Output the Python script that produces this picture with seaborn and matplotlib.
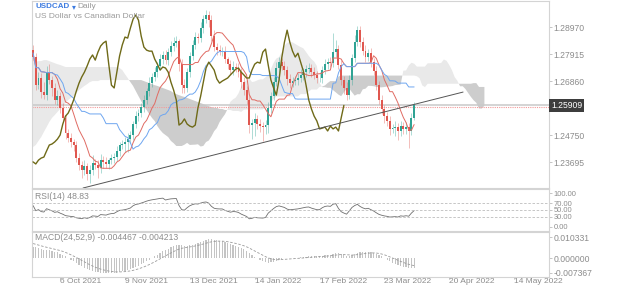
import numpy as np
import pandas as pd
import matplotlib
matplotlib.use("Agg")
import matplotlib.pyplot as plt
import matplotlib.transforms as mtransforms
import seaborn as sns

sns.set_style("white")
plt.rcParams['font.family'] = ['Liberation Sans', 'DejaVu Sans']

# daily USDCAD closes, one per trading day from 22 Sep 2021
first_open = 1.2807
closes = [
    1.2780, 1.2670, 1.2698, 1.2643, 1.2631, 1.2721, 1.2690, 1.2659, 1.2612, 1.2627,
    1.2581, 1.2542, 1.2483, 1.2463, 1.2448, 1.2436, 1.2385, 1.2358, 1.2338, 1.2354,
    1.2323, 1.2338, 1.2366, 1.2358, 1.2346, 1.2377, 1.2370, 1.2362, 1.2377, 1.2385,
    1.2389, 1.2413, 1.2436, 1.2440, 1.2448, 1.2459, 1.2475, 1.2518, 1.2549, 1.2561,
    1.2584, 1.2612, 1.2647, 1.2678, 1.2702, 1.2721, 1.2745, 1.2772, 1.2788, 1.2768,
    1.2799, 1.2823, 1.2835, 1.2842, 1.2752, 1.2670, 1.2659, 1.2721, 1.2784, 1.2827,
    1.2858, 1.2854, 1.2893, 1.2928, 1.2944, 1.2924, 1.2862, 1.2819, 1.2807, 1.2803,
    1.2803, 1.2772, 1.2752, 1.2729, 1.2741, 1.2737, 1.2721, 1.2682, 1.2651, 1.2612,
    1.2514, 1.2522, 1.2538, 1.2518, 1.2510, 1.2506, 1.2514, 1.2581, 1.2627, 1.2682,
    1.2737, 1.2760, 1.2745, 1.2729, 1.2694, 1.2678, 1.2686, 1.2692, 1.2698, 1.2710,
    1.2721, 1.2733, 1.2737, 1.2721, 1.2710, 1.2698, 1.2698, 1.2729, 1.2752, 1.2760,
    1.2756, 1.2799, 1.2811, 1.2749, 1.2690, 1.2659, 1.2631, 1.2690, 1.2776, 1.2838,
    1.2885, 1.2838, 1.2803, 1.2780, 1.2795, 1.2760, 1.2725, 1.2670, 1.2612, 1.2577,
    1.2549, 1.2530, 1.2499, 1.2502, 1.2506, 1.2491, 1.2510, 1.2499, 1.2506, 1.2491,
    1.2542, 1.25909,
]
# wick lengths above / below the candle body, in pips
wick_up = [
    20, 15, 25, 20, 40, 25, 30, 15, 20, 25, 15, 20, 10, 15, 20, 10, 15, 20, 15, 25,
    10, 20, 30, 15, 20, 25, 15, 20, 10, 15, 15, 20, 10, 15, 20, 25, 15, 10, 20, 15,
    15, 20, 10, 25, 15, 20, 15, 20, 15, 20, 15, 20, 25, 20, 10, 20, 25, 15, 15, 20,
    20, 15, 25, 15, 20, 15, 20, 25, 15, 20, 15, 20, 10, 15, 25, 15, 20, 15, 20, 15,
    20, 15, 25, 15, 20, 15, 20, 25, 15, 20, 25, 20, 15, 20, 15, 20, 15, 15, 20, 25,
    15, 15, 20, 15, 20, 15, 25, 15, 20, 15, 20, 75, 35, 15, 20, 15, 25, 20, 15, 30,
    15, 15, 20, 25, 15, 20, 15, 20, 15, 20, 15, 15, 20, 15, 25, 15, 20, 15, 20, 15,
    20, 15,
]
wick_down = [
    15, 20, 15, 25, 15, 20, 15, 30, 15, 20, 20, 15, 25, 15, 20, 25, 15, 20, 30, 20,
    25, 35, 20, 15, 40, 20, 25, 15, 20, 15, 20, 15, 20, 15, 30, 40, 15, 20, 15, 20,
    15, 20, 15, 20, 15, 15, 20, 15, 20, 15, 20, 15, 20, 15, 25, 30, 20, 15, 20, 15,
    15, 20, 15, 20, 15, 25, 20, 15, 20, 15, 20, 15, 20, 15, 20, 15, 20, 25, 20, 15,
    30, 55, 50, 20, 25, 55, 25, 30, 20, 15, 15, 20, 15, 20, 25, 20, 15, 15, 20, 15,
    20, 20, 15, 20, 15, 20, 15, 20, 15, 20, 15, 15, 20, 15, 20, 25, 20, 15, 20, 15,
    15, 20, 15, 20, 15, 20, 15, 20, 15, 20, 25, 20, 25, 15, 30, 35, 20, 20, 20, 65,
    15, 10,
]
span_a_head = [
    1.2760, 1.2760, 1.2764, 1.2764, 1.2768, 1.2768, 1.2764, 1.2760, 1.2756, 1.2752,
    1.2749, 1.2745, 1.2741, 1.2741, 1.2741, 1.2741, 1.2741, 1.2741, 1.2741, 1.2741,
    1.2741, 1.2741, 1.2741, 1.2741, 1.2741, 1.2741, 1.2741, 1.2741, 1.2741, 1.2741,
    1.2741, 1.2741, 1.2737, 1.2729, 1.2713, 1.2698, 1.2682, 1.2667, 1.2647, 1.2627,
    1.2608, 1.2588, 1.2573, 1.2557, 1.2542, 1.2530, 1.2510, 1.2495, 1.2483, 1.2475,
    1.2467,
]
span_b_head = [
    1.2428, 1.2436, 1.2452, 1.2467, 1.2487, 1.2506, 1.2526, 1.2542, 1.2553, 1.2565,
    1.2577, 1.2588, 1.2600, 1.2612, 1.2620, 1.2627, 1.2639, 1.2651, 1.2659, 1.2667,
    1.2674, 1.2682, 1.2686, 1.2686, 1.2686, 1.2690, 1.2690, 1.2690, 1.2690, 1.2690,
    1.2690, 1.2690, 1.2690, 1.2690, 1.2690, 1.2690, 1.2690, 1.2690, 1.2690, 1.2690,
    1.2690, 1.2686, 1.2682, 1.2678, 1.2674, 1.2670, 1.2667, 1.2663, 1.2659, 1.2655,
    1.2651, 1.2647, 1.2639, 1.2635, 1.2631, 1.2627, 1.2624, 1.2620, 1.2616, 1.2612,
    1.2608, 1.2604, 1.2600, 1.2596, 1.2592, 1.2588, 1.2584, 1.2581, 1.2581, 1.2577,
    1.2577, 1.2573, 1.2573, 1.2573, 1.2569, 1.2569, 1.2569,
]
last_price = 1.25909
trend_bars = [18.5, 159.1]
trend_prices = [1.2268, 1.2643]
price_ticks = [1.28970, 1.27915, 1.26860, 1.24750, 1.23695]
date_ticks = [10, 34, 58, 82, 106, 130, 154, 178]
date_labels = ["6 Oct 2021", "9 Nov 2021", "13 Dec 2021", "14 Jan 2022",
               "17 Feb 2022", "23 Mar 2022", "20 Apr 2022", "14 May 2022"]
rsi_ticks = [100, 70, 50, 30, 0]
macd_ticks = [0.010331, 0.0, -0.007367]
rsi_seed = (0.0017, 0.0010)           # average gain / loss before the first bar
macd_seed = (1.2700, 1.2646, 0.0075)  # fast EMA, slow EMA, signal before the first bar

n = len(closes)
df = pd.DataFrame({"bar": np.arange(n), "close": closes})
df["open"] = [first_open] + closes[:-1]
df["high"] = df[["open", "close"]].max(axis=1) + np.array(wick_up) / 1e4
df["low"] = df[["open", "close"]].min(axis=1) - np.array(wick_down) / 1e4

# ichimoku
df["tenkan"] = (df.high.rolling(9, min_periods=1).max() + df.low.rolling(9, min_periods=1).min()) / 2
df["kijun"] = (df.high.rolling(26, min_periods=1).max() + df.low.rolling(26, min_periods=1).min()) / 2
a_calc = ((df.tenkan + df.kijun) / 2).values
b_calc = ((df.high.rolling(52).max() + df.low.rolling(52).min()) / 2).values
cloud = pd.DataFrame({"bar": np.arange(n + 26)})
cloud["a"] = list(span_a_head) + list(a_calc[len(span_a_head) - 26:])
cloud["b"] = list(span_b_head) + list(b_calc[len(span_b_head) - 26:])

# rsi 14
g, l = rsi_seed
rsi = []
for i in range(n):
    if i > 0:
        d = closes[i] - closes[i - 1]
        g = g + (max(d, 0) - g) / 14
        l = l + (max(-d, 0) - l) / 14
    rsi.append(100 - 100 / (1 + g / l))
df["rsi"] = rsi

# macd 24,52,9
ef, es, sig = macd_seed
macd, signal = [], []
for c in closes:
    ef += (c - ef) * 2 / 25
    es += (c - es) * 2 / 53
    m = ef - es
    sig += (m - sig) * 2 / 10
    macd.append(m)
    signal.append(sig)
df["macd"] = macd
df["signal"] = signal

fig = plt.figure(figsize=(6.25, 2.89), dpi=100)
W, H = 625, 289
L, R = 32, 549
ax = fig.add_axes([L / W, 1 - 188 / H, (R - L) / W, 187 / H])
ax_rsi = fig.add_axes([L / W, 1 - 231 / H, (R - L) / W, 42 / H], sharex=ax)
ax_macd = fig.add_axes([L / W, 1 - 277 / H, (R - L) / W, 45 / H], sharex=ax)

grey = "#8c8c8c"
fs = 6.2

# cloud
ax.fill_between(cloud.bar, cloud.a, cloud.b, where=cloud.a >= cloud.b, interpolate=True,
                color="#e9e9e9", lw=0, zorder=1)
ax.fill_between(cloud.bar, cloud.a, cloud.b, where=cloud.a < cloud.b, interpolate=True,
                color="#cdcdcd", lw=0, zorder=1)

# last price lines
ax.axhline(last_price + 0.0002, color="#c9c9c9", lw=1.1, zorder=2)
ax.axhline(last_price - 0.0005, color="#f29a9a", lw=0.8, ls=(0, (1, 1)), zorder=2)

# candles
up = df.close >= df.open
col = np.where(up, "#2fa394", "#e0574f")
ax.vlines(df.bar, df.low, df.high, colors=col, lw=0.6, alpha=0.45, zorder=3)
body = (df.close - df.open).abs().clip(lower=0.00012)
ax.bar(df.bar, body, bottom=df[["open", "close"]].min(axis=1), width=0.72, color=col,
       lw=0, zorder=4)

sns.lineplot(x=df.bar, y=df.tenkan, ax=ax, color="#e06b63", lw=0.7, zorder=5)
sns.lineplot(x=df.bar, y=df.kijun, ax=ax, color="#6ea6f0", lw=0.7, zorder=5)
sns.lineplot(x=df.bar[26:] - 26, y=df.close[26:], ax=ax, color="#6f6a18", lw=1.0, zorder=6)
ax.plot(trend_bars, trend_prices, color="#555555", lw=0.7, zorder=6)

ax.set_xlim(-0.4, 190.9)
ax.set_ylim(1.2268, 1.2999)
ax.yaxis.tick_right()
ax.set_yticks(price_ticks)
ax.set_yticklabels([f"{v:.5f}" for v in price_ticks])
ax.set_xlabel("")
ax.set_ylabel("")
ax.text(1.004, last_price, "1.25909", transform=mtransforms.blended_transform_factory(ax.transAxes, ax.transData),
        color="white", fontsize=fs, va="center", ha="left",
        bbox=dict(boxstyle="square,pad=0.25", fc="#3d3d3d", ec="none"))

# rsi
sns.lineplot(x=df.bar, y=df.rsi, ax=ax_rsi, color="#6e6e6e", lw=0.6)
for v in [70, 50, 30]:
    ax_rsi.axhline(v, color="#bdbdbd", lw=0.6, ls=(0, (3, 2)))
ax_rsi.set_ylim(-11.8, 111.8)
ax_rsi.yaxis.tick_right()
ax_rsi.set_yticks(rsi_ticks)
ax_rsi.set_yticklabels([f"{v:.2f}" for v in rsi_ticks])
ax_rsi.text(0.006, 0.83, "RSI(14) 48.83", transform=ax_rsi.transAxes, color=grey,
            fontsize=fs, va="center", ha="left")
ax_rsi.set_ylabel("")

# macd
ax_macd.bar(df.bar, df.macd, width=0.45, color="#c4c4c4", lw=0)
sns.lineplot(x=df.bar, y=df.signal, ax=ax_macd, color="#9a9a9a", lw=0.6, ls=(0, (3, 2)))
ax_macd.set_ylim(-0.00934, 0.01279)
ax_macd.yaxis.tick_right()
ax_macd.set_yticks(macd_ticks)
ax_macd.set_yticklabels([f"{v:.6f}" for v in macd_ticks])
ax_macd.text(0.006, 0.87, "MACD(24,52,9) -0.004467 -0.004213", transform=ax_macd.transAxes,
             color=grey, fontsize=fs, va="center", ha="left")
ax_macd.set_ylabel("")
ax_macd.set_xticks(date_ticks)
ax_macd.set_xticklabels(date_labels, ha="left")

for a in (ax, ax_rsi, ax_macd):
    for s in a.spines.values():
        s.set_color("#d4d4d4")
        s.set_linewidth(0.8)
    a.tick_params(axis="y", right=True, length=2, width=0.6, color="#bbbbbb",
                  labelsize=fs, labelcolor=grey, pad=1.5)
    a.tick_params(axis="x", bottom=False, labelbottom=False)
ax_rsi.tick_params(axis="y", labelsize=5.4, pad=1.5)
ax_macd.tick_params(axis="x", bottom=True, labelbottom=True, length=1.5, width=0.6,
                    color="#bbbbbb", labelsize=6.0, labelcolor=grey, pad=-0.8)

fig.text(35 / W, 1 - 7 / H, "USDCAD", color="#3d7be0", fontsize=5.8, weight="bold", va="center")
fig.text(72 / W, 1 - 7 / H, "\u25be", color="#3d7be0", fontsize=5.6, va="center",
         family="DejaVu Sans")
fig.text(77 / W, 1 - 7 / H, "Daily", color="#9a9a9a", fontsize=6.0, va="center")
fig.text(35 / W, 1 - 17 / H, "US Dollar vs Canadian Dollar", color="#9a9a9a", fontsize=6.0, va="center")

fig.savefig("out.png", dpi=100)
